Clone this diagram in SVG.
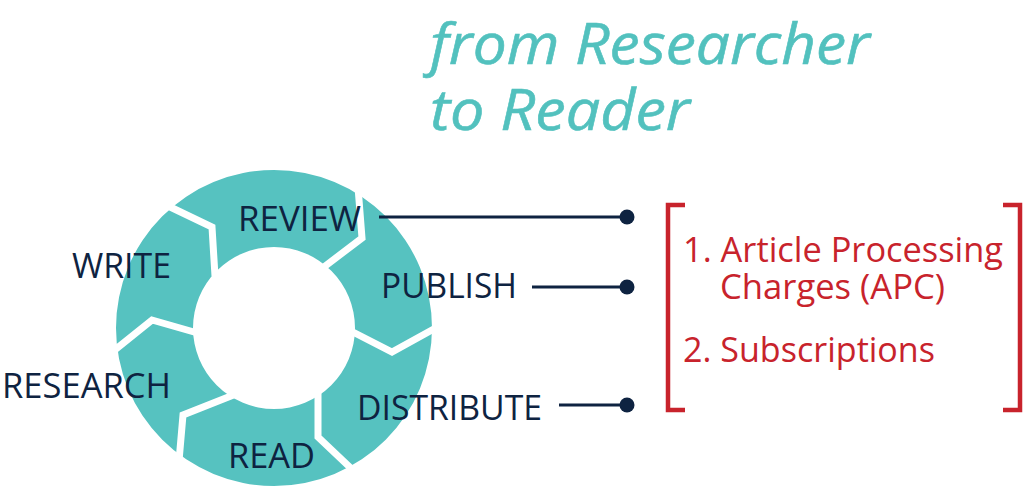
<svg xmlns="http://www.w3.org/2000/svg" width="1024" height="490" viewBox="0 0 1024 490">
<style>
.lbl{font-family:"Open Sans","Liberation Sans",sans-serif;font-size:35px;fill:#0e2341}
.red{font-family:"Open Sans","Liberation Sans",sans-serif;font-size:34px;fill:#c8232c}
.title{font-family:"Open Sans","Liberation Sans",sans-serif;font-style:italic;font-size:57px;fill:#52c1be;stroke:#52c1be;stroke-width:0.6}
.gap{fill:none;stroke:#ffffff;stroke-width:7;stroke-linejoin:miter}
.conn{stroke:#0e2341;stroke-width:3;fill:none}
.dot{fill:#0e2341}
.br{fill:none;stroke:#c8232c;stroke-width:4.5;stroke-linecap:butt}
</style>
<rect width="1024" height="490" fill="#ffffff"/>
<g id="title">
<text class="title" x="430" y="64" textLength="440" lengthAdjust="spacingAndGlyphs">from Researcher</text>
<text class="title" x="430" y="130" textLength="260" lengthAdjust="spacingAndGlyphs">to Reader</text>
</g>
<g id="cycle">
<path fill="#56c2c0" fill-rule="evenodd" d="M116,328 A158,158 0 1,0 432,328 A158,158 0 1,0 116,328 Z M193,328 A81,81 0 1,0 355,328 A81,81 0 1,0 193,328 Z"/>
<polyline class="gap" points="166,205 212,227 215,276"/>
<polyline class="gap" points="358,187 362,238 320,270"/>
<polyline class="gap" points="347,329 392,352 441,325"/>
<polyline class="gap" points="318,391 318,437 357,474"/>
<polyline class="gap" points="236,394 183,415 179,461"/>
<polyline class="gap" points="111,353 152,320 201,334"/>
</g>
<g id="connectors">
<line class="conn" x1="379" y1="217" x2="627" y2="217"/>
<circle class="dot" cx="627" cy="217" r="7.5"/>
<line class="conn" x1="532" y1="287" x2="627" y2="287"/>
<circle class="dot" cx="627" cy="287" r="7.5"/>
<line class="conn" x1="559" y1="405" x2="627" y2="405"/>
<circle class="dot" cx="627" cy="405" r="7.5"/>
</g>
<g id="node-review"><text class="lbl" x="238" y="231" textLength="123" lengthAdjust="spacingAndGlyphs">REVIEW</text></g>
<g id="node-write"><text class="lbl" x="72" y="278" textLength="99" lengthAdjust="spacingAndGlyphs">WRITE</text></g>
<g id="node-publish"><text class="lbl" x="381" y="298" textLength="136" lengthAdjust="spacingAndGlyphs">PUBLISH</text></g>
<g id="node-research"><text class="lbl" x="2" y="398" textLength="169" lengthAdjust="spacingAndGlyphs">RESEARCH</text></g>
<g id="node-distribute"><text class="lbl" x="357" y="420" textLength="185" lengthAdjust="spacingAndGlyphs">DISTRIBUTE</text></g>
<g id="node-read"><text class="lbl" x="228" y="468" textLength="87" lengthAdjust="spacingAndGlyphs">READ</text></g>
<g id="funding">
<polyline class="br" points="685,205 668,205 668,410 685,410"/>
<polyline class="br" points="1003,205 1020,205 1020,410 1003,410"/>
<text class="red" x="683" y="262" textLength="320" lengthAdjust="spacingAndGlyphs">1. Article Processing</text>
<text class="red" x="720" y="299" textLength="225" lengthAdjust="spacingAndGlyphs">Charges (APC)</text>
<text class="red" x="683" y="362" textLength="252" lengthAdjust="spacingAndGlyphs">2. Subscriptions</text>
</g>
</svg>
